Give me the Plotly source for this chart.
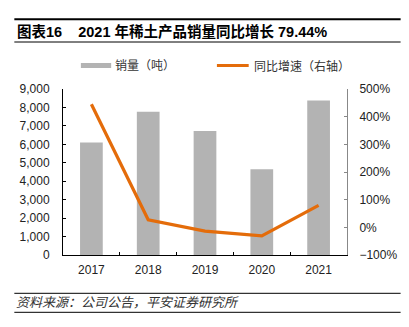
import plotly.graph_objects as go

years = ["2017", "2018", "2019", "2020", "2021"]
sales = [6100, 7770, 6720, 4650, 8370]
growth = [445, 27.4, -13.5, -31.0, 79.44]

title_text = "<b>图表16    2021 年稀土产品销量同比增长 79.44%</b>"
source_text = "<i>资料来源：公司公告，平安证券研究所</i>"
legend_bar = "销量（吨）"
legend_line = "同比增速（右轴）"

FONT = "Liberation Sans, Arial, Noto Sans CJK SC"
BAR_C = "#b3b3b3"
LINE_C = "#e46c0a"

fig = go.Figure()
fig.add_trace(go.Bar(x=years, y=sales, marker=dict(color=BAR_C, line=dict(width=0)),
                     width=0.4, name=legend_bar, yaxis="y"))
fig.add_trace(go.Scatter(x=years, y=growth, mode="lines", line=dict(color=LINE_C, width=3.2),
                         name=legend_line, yaxis="y2"))

W, H = 409, 327
L, R, T, B = 63, 349, 89, 255

fig.update_layout(
    width=W, height=H,
    margin=dict(l=L, r=W - R, t=T, b=H - B),
    paper_bgcolor="white", plot_bgcolor="white",
    showlegend=False,
    font=dict(family=FONT, size=12, color="#222"),
    bargap=0.6,
    xaxis=dict(type="category", showline=True, linecolor="#000", linewidth=1,
               ticks="inside", tickson="boundaries", ticklen=3, tickcolor="#000",
               showgrid=False, tickfont=dict(size=12, color="#222"), ticklabelstandoff=4),
    yaxis=dict(range=[0, 9000], dtick=1000, tickformat=",", showline=True, linecolor="#000",
               linewidth=1, ticks="inside", ticklen=3, tickcolor="#000", showgrid=False,
               zeroline=False, tickfont=dict(size=12, color="#222"), ticklabelstandoff=10),
    yaxis2=dict(range=[-100, 500], dtick=100, ticksuffix="%", overlaying="y", side="right",
                showline=True, linecolor="#888", linewidth=1, ticks="inside", ticklen=3,
                tickcolor="#888", showgrid=False, zeroline=False,
                tickfont=dict(size=12, color="#222"), ticklabelstandoff=9),
)

def px(x):
    return x / W

def py(y):
    return 1 - y / H

shapes = [
    dict(type="line", xref="paper", yref="paper", x0=px(14) , x1=px(403) , y0=py(19.3), y1=py(19.3),
         line=dict(color="#000", width=2)),
    dict(type="line", xref="paper", yref="paper", x0=px(14), x1=px(403), y0=py(42), y1=py(42),
         line=dict(color="#000", width=1)),
    dict(type="line", xref="paper", yref="paper", x0=px(14), x1=px(403), y0=py(293.3), y1=py(293.3),
         line=dict(color="#000", width=1)),
    dict(type="line", xref="paper", yref="paper", x0=px(14), x1=px(403), y0=py(312.3), y1=py(312.3),
         line=dict(color="#000", width=1)),
    dict(type="line", xref="paper", yref="paper", x0=px(81), x1=px(111.5), y0=py(65.5), y1=py(65.5),
         line=dict(color=BAR_C, width=5)),
    dict(type="line", xref="paper", yref="paper", x0=px(218), x1=px(250), y0=py(65.5), y1=py(65.5),
         line=dict(color=LINE_C, width=3)),
]

def conv(s):
    s = dict(s)
    for k in ("x0", "x1"):
        s[k] = (s[k] * W - L) / (R - L)
    for k in ("y0", "y1"):
        ypix = (1 - s[k]) * H
        s[k] = (B - ypix) / (B - T)
    return s

fig.update_layout(shapes=[conv(s) for s in shapes])

def ann(text, x, y, size, xanchor="left", color="#222"):
    return dict(text=text, xref="paper", yref="paper",
                x=(x - L) / (R - L), y=(B - y) / (B - T), xanchor=xanchor, yanchor="middle",
                showarrow=False, font=dict(size=size, color=color, family=FONT))

fig.update_layout(annotations=[
    ann(title_text, 15, 31.5, 14.5, color="#000"),
    ann(legend_bar, 113, 66, 12, color="#333"),
    ann(legend_line, 253, 66, 12, color="#333"),
    ann(source_text, 14, 302.5, 13, color="#333"),
])

fig.write_html("out.html")
